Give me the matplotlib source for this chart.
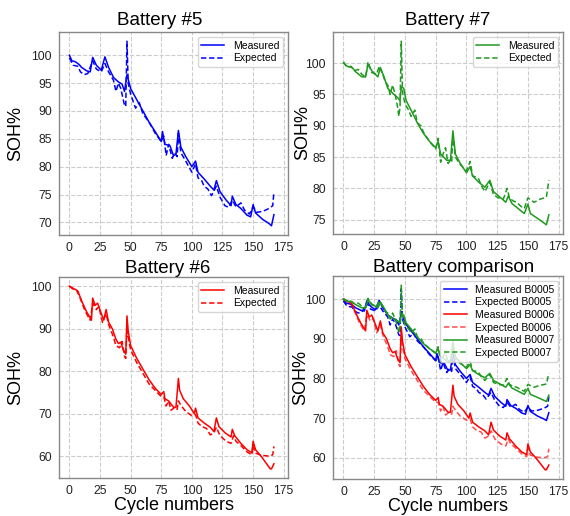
import matplotlib
matplotlib.use("Agg")
import matplotlib.pyplot as plt

# values (cycle, SOH%)
b5_meas_x = [0, 2, 5, 8, 10, 14, 17, 19, 22, 26, 29, 32, 36, 40, 43, 45, 47, 50, 55, 60, 65, 70, 75, 76, 78,
             82, 85, 87, 89, 91, 95, 100, 103, 105, 110, 115, 118, 120, 123, 128, 132, 133, 136, 140, 145,
             148, 150, 152, 158, 163, 165, 167]
b5_meas_y = [100, 99.0, 98.8, 98.3, 97.8, 97.2, 97.0, 99.6, 98.2, 97.3, 99.7, 97.8, 96.0, 95.2, 94.8, 93.5,
             96.5, 94.0, 92.0, 90.0, 88.0, 86.3, 84.5, 86.3, 84.0, 83.8, 82.0, 82.2, 86.5, 83.5, 81.8, 80.0,
             81.0, 79.0, 77.8, 76.5, 75.8, 77.5, 75.5, 74.0, 73.0, 74.7, 73.2, 72.5, 71.3, 71.0, 73.2, 71.7,
             70.5, 69.8, 69.4, 71.4]
b5_exp_x = [0, 3, 7, 9, 12, 15, 19, 22, 26, 29, 32, 36, 38, 40, 42, 45, 46, 47, 48, 50, 54, 57, 60, 65, 70,
            75, 77, 79, 81, 84, 86, 88, 89, 91, 95, 100, 103, 105, 108, 110, 113, 116, 120, 123, 127, 130,
            133, 136, 140, 143, 147, 150, 153, 158, 163, 166, 167]
b5_exp_y = [99.5, 98.2, 98.0, 97.0, 96.5, 96.7, 99.0, 97.5, 97.0, 98.5, 97.0, 95.5, 93.5, 95.0, 94.0, 91.0,
            90.8, 102.5, 95.0, 93.0, 90.5, 91.5, 89.5, 88.0, 86.0, 84.5, 85.5, 82.0, 84.0, 81.5, 82.5, 81.8,
            86.0, 82.5, 81.0, 79.0, 80.5, 78.0, 77.5, 76.5, 76.0, 74.8, 76.5, 74.5, 73.0, 72.7, 74.0, 72.8,
            73.5, 72.2, 71.5, 72.8, 71.8, 72.0, 72.5, 73.0, 75.5]

b6_meas_x = [0, 3, 5, 7, 10, 14, 18, 19, 21, 23, 24, 28, 30, 32, 35, 38, 40, 42, 44, 46, 47, 48, 50, 55, 60,
             65, 70, 75, 77, 78, 81, 85, 87, 89, 90, 93, 98, 102, 103, 105, 110, 115, 118, 120, 122, 127,
             132, 133, 135, 140, 145, 149, 150, 152, 157, 162, 164, 165, 167]
b6_meas_y = [100, 99.5, 99.2, 98.8, 96.5, 94.0, 92.0, 97.2, 95.5, 96.0, 95.2, 92.0, 94.5, 91.5, 90.0, 87.5,
             86.5, 86.8, 85.0, 84.0, 93.0, 89.5, 86.0, 83.0, 80.5, 78.0, 76.0, 74.5, 75.2, 73.5, 73.0, 71.5,
             71.5, 78.3, 75.5, 73.5, 71.8, 70.0, 71.3, 69.0, 67.8, 66.8, 65.8, 69.0, 67.0, 65.5, 64.5, 66.3,
             64.8, 63.0, 61.5, 60.8, 63.5, 61.5, 59.8, 57.8, 57.0, 57.0, 58.2]
b6_exp_x = [0, 3, 6, 9, 13, 17, 19, 22, 24, 27, 30, 32, 36, 38, 41, 43, 45, 46, 47, 48, 50, 55, 60, 65, 70,
            75, 77, 79, 81, 83, 86, 88, 89, 91, 95, 100, 103, 105, 108, 112, 115, 118, 120, 123, 128, 132,
            134, 136, 140, 145, 149, 150, 152, 157, 163, 166, 167]
b6_exp_y = [100, 99.3, 99.0, 97.0, 94.0, 92.0, 96.0, 94.5, 95.2, 91.5, 93.5, 91.0, 88.0, 86.0, 85.5, 87.0,
            83.5, 83.0, 90.0, 88.0, 85.0, 82.0, 79.5, 77.0, 75.5, 74.0, 74.0, 71.8, 73.0, 70.8, 71.5, 71.0,
            73.0, 72.0, 70.5, 69.5, 69.8, 67.8, 67.0, 66.5, 65.0, 65.5, 66.8, 64.8, 63.5, 63.0, 64.8, 63.5,
            62.5, 61.0, 60.3, 62.5, 60.7, 60.2, 60.0, 60.3, 62.3]

b7_meas_x = [0, 3, 7, 10, 15, 18, 20, 23, 28, 30, 33, 36, 40, 44, 46, 47, 49, 51, 55, 60, 65, 70, 75, 77,
             79, 84, 87, 89, 91, 95, 100, 103, 105, 110, 115, 119, 122, 128, 132, 134, 137, 142, 147, 150,
             152, 158, 163, 165, 167]
b7_meas_y = [100, 99.5, 99.3, 98.6, 97.8, 97.8, 99.8, 98.8, 97.8, 99.3, 97.8, 96.0, 95.2, 94.5, 94.0, 96.2,
             96.0, 94.0, 92.5, 90.5, 88.8, 87.5, 86.5, 87.5, 85.5, 84.5, 84.5, 89.2, 85.5, 84.0, 82.5, 83.5,
             82.0, 81.0, 80.2, 81.3, 79.5, 78.5, 77.8, 78.8, 77.6, 76.8, 76.0, 77.5, 76.0, 75.2, 74.5, 74.2,
             75.8]
b7_exp_x = [0, 3, 6, 9, 12, 15, 18, 20, 23, 27, 29, 32, 34, 36, 38, 40, 42, 44, 45, 46, 47, 48, 50, 53, 55,
            58, 60, 63, 65, 70, 75, 77, 79, 81, 83, 85, 87, 88, 89, 91, 95, 100, 103, 105, 108, 110, 112,
            115, 119, 122, 126, 130, 133, 135, 138, 141, 144, 147, 150, 155, 160, 165, 167]
b7_exp_y = [100.2, 99.3, 99.5, 98.8, 99.0, 98.2, 97.8, 100.2, 98.5, 98.2, 99.5, 98.2, 97.0, 96.5, 95.0, 96.5,
            95.0, 93.0, 91.5, 93.0, 103.5, 95.5, 93.5, 92.5, 91.5, 92.5, 90.5, 90.0, 89.0, 87.5, 86.3, 88.0,
            84.2, 85.5, 86.5, 84.0, 84.5, 84.2, 88.5, 85.0, 83.8, 82.8, 84.3, 82.0, 81.8, 81.5, 80.5, 79.5,
            81.0, 79.0, 78.5, 78.3, 80.0, 78.5, 78.0, 77.8, 77.2, 76.8, 78.5, 77.8, 78.3, 78.6, 81.3]

x_ticks = [0, 25, 50, 75, 100, 125, 150, 175]

plt.rcParams['font.family'] = ['Liberation Sans', 'DejaVu Sans']

fig = plt.figure(figsize=(5.7, 5.16), dpi=100)
ax1 = fig.add_axes([0.1035, 0.5446, 0.4018, 0.3934])
ax2 = fig.add_axes([0.5842, 0.5465, 0.4035, 0.3915])
ax3 = fig.add_axes([0.1035, 0.0736, 0.4018, 0.3895])
ax4 = fig.add_axes([0.5842, 0.0717, 0.4035, 0.3934])

blue, red, green = '#0000ff', '#ff0000', '#1f9a1f'
dash = (3.5, 1.8)


def style(ax, title, title_x, title_pad, label_x, xlabel=False):
    ax.set_title(title, fontsize=13.5, pad=title_pad, x=title_x)
    ax.set_xticks(x_ticks)
    ax.set_xlim(-8.5, 178.5)
    ax.grid(True, linestyle='--', color='#cccccc', linewidth=0.8)
    ax.set_axisbelow(True)
    ax.tick_params(length=0, pad=5, labelsize=8.8, colors='#222222')
    for s in ax.spines.values():
        s.set_color('#888888')
        s.set_linewidth(1.0)
    ax.set_ylabel('SOH%', fontsize=13)
    ax.yaxis.set_label_coords(label_x, 0.5)
    if xlabel:
        ax.set_xlabel('Cycle numbers', fontsize=13, labelpad=0)


def legend(ax, **kw):
    ax.legend(loc='upper right', fontsize=7.5, labelspacing=0.25, borderpad=0.35,
              handlelength=2.2, **kw)


# Battery #5
ax1.plot(b5_meas_x, b5_meas_y, color=blue, lw=1.1, label='Measured')
ax1.plot(b5_exp_x, b5_exp_y, color=blue, lw=1.1, ls='--', dashes=dash, label='Expected')
ax1.set_yticks([70, 75, 80, 85, 90, 95, 100])
style(ax1, 'Battery #5', 0.44, 5, -0.153)
legend(ax1)

# Battery #7
ax2.plot(b7_meas_x, b7_meas_y, color=green, lw=1.1, label='Measured')
ax2.plot(b7_exp_x, b7_exp_y, color=green, lw=1.1, ls='--', dashes=dash, label='Expected')
ax2.set_yticks([75, 80, 85, 90, 95, 100])
style(ax2, 'Battery #7', 0.5, 5, -0.096)
legend(ax2)

# Battery #6
ax3.plot(b6_meas_x, b6_meas_y, color=red, lw=1.1, label='Measured')
ax3.plot(b6_exp_x, b6_exp_y, color=red, lw=1.1, ls='--', dashes=dash, label='Expected')
ax3.set_yticks([60, 70, 80, 90, 100])
style(ax3, 'Battery #6', 0.474, 2, -0.153, xlabel=True)
legend(ax3)

# comparison
ax4.plot(b5_meas_x, b5_meas_y, color=blue, lw=1.1, label='Measured B0005')
ax4.plot(b5_exp_x, b5_exp_y, color=blue, lw=1.1, ls='--', dashes=dash, label='Expected B0005')
ax4.plot(b6_meas_x, b6_meas_y, color=red, lw=1.1, label='Measured B0006')
ax4.plot(b6_exp_x, b6_exp_y, color=red, lw=1.1, ls='--', dashes=dash, alpha=0.7, label='Expected B0006')
ax4.plot(b7_meas_x, b7_meas_y, color=green, lw=1.1, label='Measured B0007')
ax4.plot(b7_exp_x, b7_exp_y, color=green, lw=1.1, ls='--', dashes=dash, label='Expected B0007')
ax4.set_yticks([60, 70, 80, 90, 100])
style(ax4, 'Battery comparison', 0.526, 2, -0.104, xlabel=True)
legend(ax4)

fig.savefig('out.png', dpi=100)
